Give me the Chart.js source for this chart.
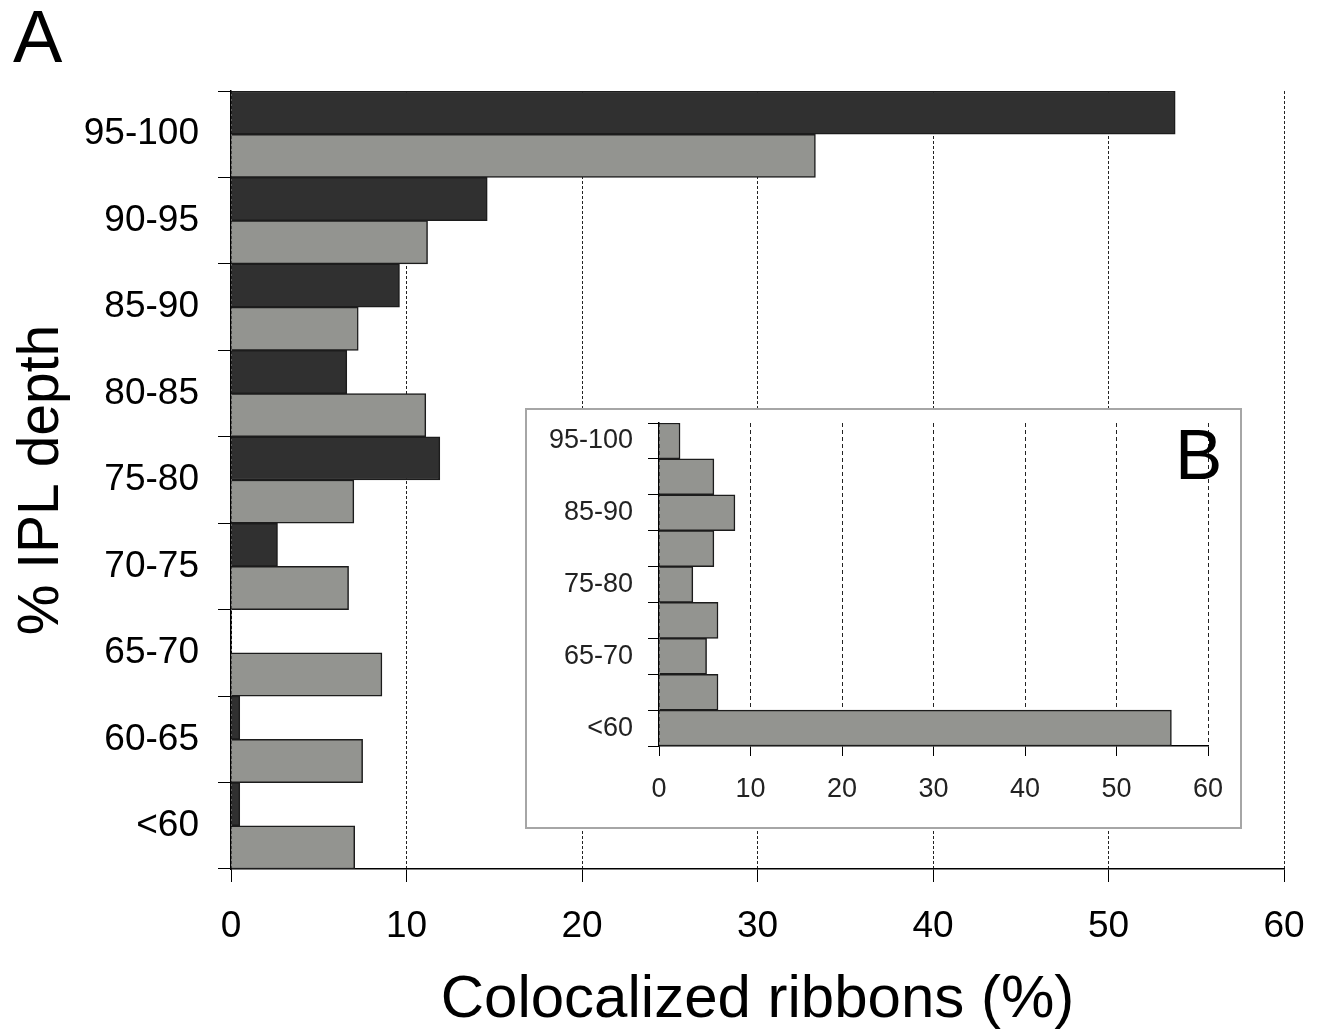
<!DOCTYPE html>
<html>
<head>
<meta charset="utf-8">
<script src="https://cdn.jsdelivr.net/npm/chart.js@4"></script>
<style>
  html, body { margin: 0; padding: 0; background: #fff; }
  body { width: 1321px; height: 1036px; position: relative; overflow: hidden;
         font-family: 'Liberation Sans', Arial, sans-serif; }
  #main { position: absolute; left: 0; top: 0; }
  .panel-label { position: absolute; line-height: 1; color: #000; }
  #inset-box { position: absolute; left: 525px; top: 408px; width: 713px; height: 417px;
               border: 2px solid #a6a6a6; background: #fff; }
  #inset { position: absolute; left: 0; top: 0; }
</style>
</head>
<body>
<canvas id="main" width="1321" height="1036"></canvas>
<div id="inset-box"><canvas id="inset" width="713" height="417"></canvas></div>
<div class="panel-label" style="left:13px;top:0px;font-size:74px">A</div>
<div class="panel-label" style="left:1175px;top:419px;font-size:71px">B</div>

<script>
/* ── Data ───────────────────────────────────────────────────── */
const depthBins  = ['95-100', '90-95', '85-90', '80-85', '75-80', '70-75', '65-70', '60-65', '<60'];
const darkSeries = [53.8, 14.6, 9.6, 6.6, 11.9, 2.65, 0, 0.5, 0.5];
const graySeries = [33.3, 11.2, 7.25, 11.1, 7.0, 6.7, 8.6, 7.5, 7.05];
const insetSeries = [2.3, 6.0, 8.3, 6.0, 3.7, 6.45, 5.2, 6.45, 56.0];
const xTicks = [0, 10, 20, 30, 40, 50, 60];

const FONT = "'Liberation Sans', Arial, sans-serif";
const DARK = '#303030';
const GRAY = '#939490';
const EDGE = '#1c1c1c';

// fixed axis boxes, no extra label padding
const fixX = h => s => { s.height = h; s.paddingLeft = 0; s.paddingRight = 0; };
const fixY = w => s => { s.width = w; s.paddingTop = 0; s.paddingBottom = 0; };

/* ── Panel A ────────────────────────────────────────────────── */
new Chart(document.getElementById('main'), {
  type: 'bar',
  data: {
    labels: depthBins,
    datasets: [
      { data: darkSeries, backgroundColor: DARK, borderColor: EDGE, borderWidth: 1.5,
        barPercentage: 1, categoryPercentage: 1 },
      { data: graySeries, backgroundColor: GRAY, borderColor: EDGE, borderWidth: 1.5,
        barPercentage: 1, categoryPercentage: 1 }
    ]
  },
  options: {
    indexAxis: 'y',
    responsive: false,
    animation: false,
    layout: { padding: { left: 0, top: 91, right: 37, bottom: 0 } },
    plugins: { legend: { display: false }, tooltip: { enabled: false } },
    scales: {
      x: {
        min: xTicks[0], max: xTicks[xTicks.length - 1],
        afterFit: fixX(167),
        afterBuildTicks: s => { s.ticks = xTicks.map(v => ({ value: v })); },
        ticks: { color: '#000', font: { family: FONT, size: 37 }, padding: 23, maxRotation: 0 },
        grid: { color: '#222', lineWidth: 1, tickLength: 13, tickColor: '#000',
                tickBorderDash: [] },
        border: { color: '#000', width: 1.5, dash: [3, 2] },
        title: { display: true, text: 'Colocalized ribbons (%)', color: '#000',
                 font: { family: FONT, size: 60 }, padding: { top: 0, bottom: 0 } }
      },
      y: {
        afterFit: fixY(231),
        ticks: { color: '#000', font: { family: FONT, size: 37 }, padding: 19, autoSkip: false },
        grid: { drawOnChartArea: false, tickLength: 13, color: '#000', offset: true },
        border: { color: '#000', width: 1.5 },
        title: { display: true, text: '% IPL depth', color: '#000',
                 font: { family: FONT, size: 57 }, padding: { top: 8, bottom: 0 } }
      }
    }
  }
});

/* ── Panel B (inset) ────────────────────────────────────────── */
new Chart(document.getElementById('inset'), {
  type: 'bar',
  data: {
    labels: depthBins,
    datasets: [
      { data: insetSeries, backgroundColor: GRAY, borderColor: EDGE, borderWidth: 1.5,
        barPercentage: 1, categoryPercentage: 1 }
    ]
  },
  options: {
    indexAxis: 'y',
    responsive: false,
    animation: false,
    layout: { padding: { left: 0, top: 13, right: 32, bottom: 0 } },
    plugins: { legend: { display: false }, tooltip: { enabled: false } },
    scales: {
      x: {
        min: xTicks[0], max: xTicks[xTicks.length - 1],
        afterFit: fixX(81),
        afterBuildTicks: s => { s.ticks = xTicks.map(v => ({ value: v })); },
        ticks: { color: '#222', font: { family: FONT, size: 27 }, padding: 17, maxRotation: 0 },
        grid: { color: '#222', lineWidth: 1, tickLength: 10, tickColor: '#000',
                tickBorderDash: [] },
        border: { color: '#000', width: 1.5, dash: [4, 3] }
      },
      y: {
        afterFit: fixY(132),
        ticks: { color: '#222', font: { family: FONT, size: 27 }, padding: 15, autoSkip: false,
                 callback: (v, i) => (i % 2 === 0 ? depthBins[i] : '') },
        grid: { drawOnChartArea: false, tickLength: 11, color: '#000', offset: true },
        border: { color: '#000', width: 1.5 }
      }
    }
  }
});
</script>
</body>
</html>
